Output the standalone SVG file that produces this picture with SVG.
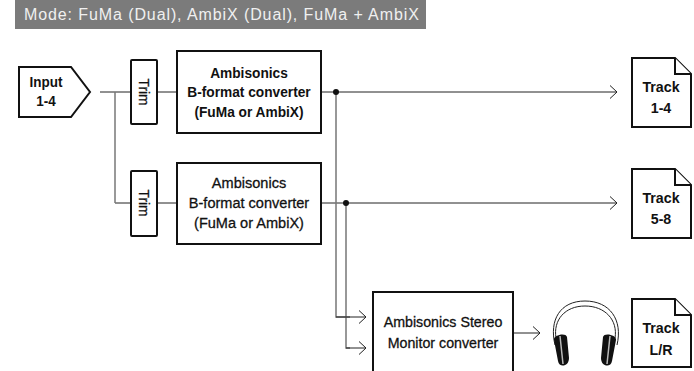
<svg xmlns="http://www.w3.org/2000/svg" width="694" height="371" viewBox="0 0 694 371">
<style>
.b{fill:#fff;stroke:#111;stroke-width:2}
.w{fill:none;stroke:#222;stroke-width:1}
.g{fill:none;stroke:#777;stroke-width:1.5}
.t{font-family:"Liberation Sans",Arial,sans-serif;font-size:15px;fill:#111;text-anchor:middle;font-weight:700}
.n{font-weight:400;stroke:#111;stroke-width:.3}
</style>
<defs>
<marker id="a" markerUnits="userSpaceOnUse" markerWidth="12" markerHeight="18" refX="10" refY="8" orient="auto"><path d="M3 1.5L10 8L3 14.5" fill="none" stroke="#222" stroke-width="1"/></marker>
</defs>
<rect x="15" y="0" width="411" height="29" fill="#7b7b7b"/>
<text x="24" y="20" font-family="'Liberation Sans',Arial,sans-serif" font-size="16" letter-spacing=".9" fill="#f0f0f0">Mode: FuMa (Dual), AmbiX (Dual), FuMa + AmbiX</text>
<g id="connectors">
<path class="w" d="M100 92H131M157 92H177M115 203H131M157 203H177"/>
<path class="g" d="M115 92V203"/>
<path class="w" d="M321 92H617" marker-end="url(#a)"/>
<path class="w" d="M321 203H617" marker-end="url(#a)"/>
<path class="g" d="M336 92V317H350"/>
<path class="g" d="M346 203V348H350"/>
<path class="w" d="M336 317H366" marker-end="url(#a)"/>
<path class="w" d="M346 348H366" marker-end="url(#a)"/>
<path class="w" d="M513 333H540" marker-end="url(#a)"/>
<circle cx="336" cy="92" r="3" fill="#111"/>
<circle cx="346" cy="203" r="3" fill="#111"/>
</g>
<g id="input"><path class="b" d="M19 67H71L90 92L71 117H19Z"/>
<text class="t" transform="translate(46 87) scale(.9 1)">Input</text><text class="t" transform="translate(46 106) scale(.9 1)">1-4</text></g>
<g id="trim1"><rect class="b" x="131" y="60" width="26" height="64" rx="1"/><text class="t n" transform="translate(139 92) rotate(90) scale(.92 1)">Trim</text></g>
<g id="trim2"><rect class="b" x="131" y="171" width="26" height="65" rx="1"/><text class="t n" transform="translate(139 203) rotate(90) scale(.92 1)">Trim</text></g>
<g id="conv1"><rect class="b" x="177" y="51" width="144" height="82"/>
<text class="t" transform="translate(249 78) scale(.915 1)">Ambisonics</text><text class="t" transform="translate(249 97) scale(.915 1)">B-format converter</text><text class="t" transform="translate(249 117) scale(.915 1)">(FuMa or AmbiX)</text></g>
<g id="conv2"><rect class="b" x="177" y="163" width="144" height="81"/>
<text class="t n" transform="translate(249 188) scale(.97 1)">Ambisonics</text><text class="t n" transform="translate(249 208) scale(.97 1)">B-format converter</text><text class="t n" transform="translate(249 228) scale(.97 1)">(FuMa or AmbiX)</text></g>
<g id="monitor"><rect class="b" x="373" y="292" width="140" height="90"/>
<text class="t n" transform="translate(443 327) scale(.95 1)">Ambisonics Stereo</text><text class="t n" transform="translate(443 348) scale(.95 1)">Monitor converter</text></g>
<g id="track1"><path class="b" d="M632 58H675L691 74V127H632Z"/><path class="b" d="M675 58V74H691"/>
<text class="t" transform="translate(661 92) scale(.95 1)">Track</text><text class="t" transform="translate(661 113) scale(.95 1)">1-4</text></g>
<g id="track2"><path class="b" d="M632 169H675L691 185V238H632Z"/><path class="b" d="M675 169V185H691"/>
<text class="t" transform="translate(661 203) scale(.95 1)">Track</text><text class="t" transform="translate(661 224) scale(.95 1)">5-8</text></g>
<g id="track3"><path class="b" d="M632 299H675L691 315V367H632Z"/><path class="b" d="M675 299V315H691"/>
<text class="t" transform="translate(661 333) scale(.95 1)">Track</text><text class="t" transform="translate(661 355) scale(.95 1)">L/R</text></g>
<g id="headphones">
<path d="M555 345C549 320 560 301 585 301C610 301 623 320 617 345" fill="none" stroke="#222" stroke-width="1"/>
<path d="M556 338C553 320 565 306 585 306C605 306 618 320 615 338" fill="none" stroke="#222" stroke-width="1"/>
<path d="M554 340C553 335 566 332 567 337L569 358C569 367 559 368 558 361Z" fill="#111"/>
<path d="M616 340C617 335 604 332 603 337L601 358C601 367 611 368 612 361Z" fill="#111"/>
<path d="M560 336L563 364M610 336L607 364" stroke="#bbb" stroke-width="1.5"/>
</g>
</svg>
